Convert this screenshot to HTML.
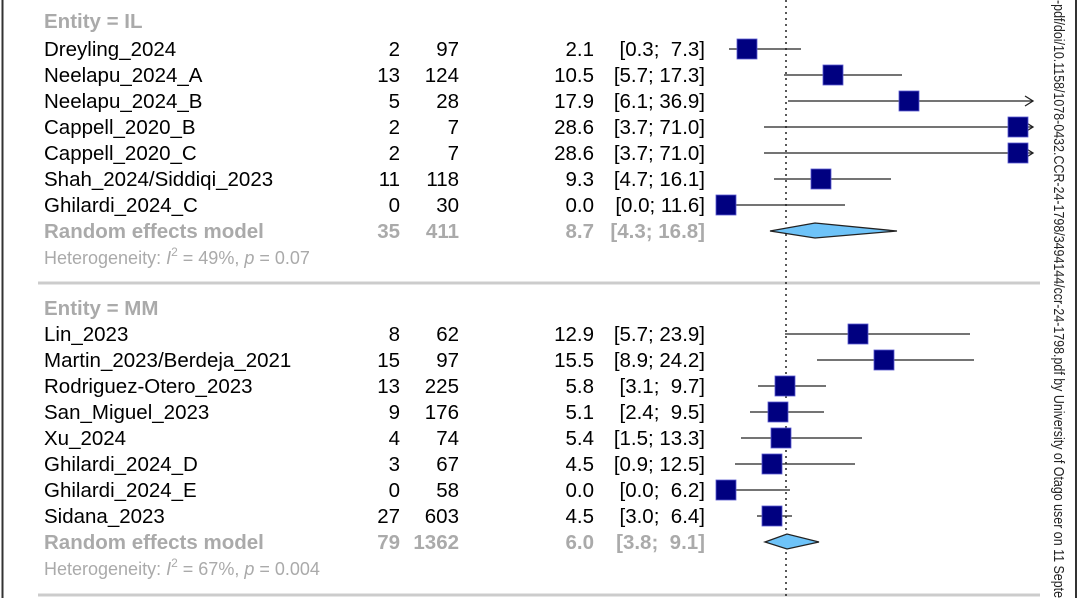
<!DOCTYPE html>
<html><head><meta charset="utf-8"><style>
html,body{margin:0;padding:0;background:#fff;overflow:hidden;width:1080px;height:598px;}
svg{display:block;font-family:"Liberation Sans",sans-serif;}
text{white-space:pre;}
</style></head><body>
<svg width="1080" height="598" viewBox="0 0 1080 598" xmlns="http://www.w3.org/2000/svg">
<defs><clipPath id="c"><rect width="1080" height="598"/></clipPath></defs>
<g clip-path="url(#c)">
<rect width="1080" height="598" fill="#fff"/>
<line x1="2.5" y1="0" x2="2.5" y2="598" stroke="#333" stroke-width="2"/>
<line x1="1076" y1="0" x2="1076" y2="598" stroke="#333" stroke-width="2"/>
<text x="1054" y="0" font-size="14.5" fill="#222" textLength="598" lengthAdjust="spacingAndGlyphs" transform="rotate(90 1054 0)">-pdf/doi/10.1158/1078-0432.CCR-24-1798/3494144/ccr-24-1798.pdf by University of Otago user on 11 Septe</text>
<line x1="38" y1="283" x2="1040" y2="283" stroke="#ccc" stroke-width="3"/>
<line x1="38" y1="595" x2="1040" y2="595" stroke="#ccc" stroke-width="3"/>
<line x1="786" y1="0" x2="786" y2="598" stroke="#222" stroke-width="1.5" stroke-dasharray="2,4"/>
<g font-size="20.5" fill="#000">
<text x="44" y="28" fill="#aaa" font-weight="bold">Entity = IL</text>
<text x="44" y="56">Dreyling_2024</text><text x="400" y="56" text-anchor="end">2</text><text x="459" y="56" text-anchor="end">97</text><text x="594" y="56" text-anchor="end">2.1</text><text x="705" y="56" text-anchor="end">[0.3;  7.3]</text>
<text x="44" y="82">Neelapu_2024_A</text><text x="400" y="82" text-anchor="end">13</text><text x="459" y="82" text-anchor="end">124</text><text x="594" y="82" text-anchor="end">10.5</text><text x="705" y="82" text-anchor="end">[5.7; 17.3]</text>
<text x="44" y="108">Neelapu_2024_B</text><text x="400" y="108" text-anchor="end">5</text><text x="459" y="108" text-anchor="end">28</text><text x="594" y="108" text-anchor="end">17.9</text><text x="705" y="108" text-anchor="end">[6.1; 36.9]</text>
<text x="44" y="134">Cappell_2020_B</text><text x="400" y="134" text-anchor="end">2</text><text x="459" y="134" text-anchor="end">7</text><text x="594" y="134" text-anchor="end">28.6</text><text x="705" y="134" text-anchor="end">[3.7; 71.0]</text>
<text x="44" y="160">Cappell_2020_C</text><text x="400" y="160" text-anchor="end">2</text><text x="459" y="160" text-anchor="end">7</text><text x="594" y="160" text-anchor="end">28.6</text><text x="705" y="160" text-anchor="end">[3.7; 71.0]</text>
<text x="44" y="186">Shah_2024/Siddiqi_2023</text><text x="400" y="186" text-anchor="end">11</text><text x="459" y="186" text-anchor="end">118</text><text x="594" y="186" text-anchor="end">9.3</text><text x="705" y="186" text-anchor="end">[4.7; 16.1]</text>
<text x="44" y="212">Ghilardi_2024_C</text><text x="400" y="212" text-anchor="end">0</text><text x="459" y="212" text-anchor="end">30</text><text x="594" y="212" text-anchor="end">0.0</text><text x="705" y="212" text-anchor="end">[0.0; 11.6]</text>
<g fill="#aaa" font-weight="bold"><text x="44" y="238">Random effects model</text><text x="400" y="238" text-anchor="end">35</text><text x="459" y="238" text-anchor="end">411</text><text x="594" y="238" text-anchor="end">8.7</text><text x="705" y="238" text-anchor="end">[4.3; 16.8]</text></g>
<text x="44" y="264" fill="#aaa" font-size="18">Heterogeneity: <tspan font-style="italic">I</tspan><tspan dy="-8" font-size="12">2</tspan><tspan dy="8"> = 49%, </tspan><tspan font-style="italic">p</tspan> = 0.07</text>

<text x="44" y="315" fill="#aaa" font-weight="bold">Entity = MM</text>
<text x="44" y="341">Lin_2023</text><text x="400" y="341" text-anchor="end">8</text><text x="459" y="341" text-anchor="end">62</text><text x="594" y="341" text-anchor="end">12.9</text><text x="705" y="341" text-anchor="end">[5.7; 23.9]</text>
<text x="44" y="367">Martin_2023/Berdeja_2021</text><text x="400" y="367" text-anchor="end">15</text><text x="459" y="367" text-anchor="end">97</text><text x="594" y="367" text-anchor="end">15.5</text><text x="705" y="367" text-anchor="end">[8.9; 24.2]</text>
<text x="44" y="393">Rodriguez-Otero_2023</text><text x="400" y="393" text-anchor="end">13</text><text x="459" y="393" text-anchor="end">225</text><text x="594" y="393" text-anchor="end">5.8</text><text x="705" y="393" text-anchor="end">[3.1;  9.7]</text>
<text x="44" y="419">San_Miguel_2023</text><text x="400" y="419" text-anchor="end">9</text><text x="459" y="419" text-anchor="end">176</text><text x="594" y="419" text-anchor="end">5.1</text><text x="705" y="419" text-anchor="end">[2.4;  9.5]</text>
<text x="44" y="445">Xu_2024</text><text x="400" y="445" text-anchor="end">4</text><text x="459" y="445" text-anchor="end">74</text><text x="594" y="445" text-anchor="end">5.4</text><text x="705" y="445" text-anchor="end">[1.5; 13.3]</text>
<text x="44" y="471">Ghilardi_2024_D</text><text x="400" y="471" text-anchor="end">3</text><text x="459" y="471" text-anchor="end">67</text><text x="594" y="471" text-anchor="end">4.5</text><text x="705" y="471" text-anchor="end">[0.9; 12.5]</text>
<text x="44" y="497">Ghilardi_2024_E</text><text x="400" y="497" text-anchor="end">0</text><text x="459" y="497" text-anchor="end">58</text><text x="594" y="497" text-anchor="end">0.0</text><text x="705" y="497" text-anchor="end">[0.0;  6.2]</text>
<text x="44" y="523">Sidana_2023</text><text x="400" y="523" text-anchor="end">27</text><text x="459" y="523" text-anchor="end">603</text><text x="594" y="523" text-anchor="end">4.5</text><text x="705" y="523" text-anchor="end">[3.0;  6.4]</text>
<g fill="#aaa" font-weight="bold"><text x="44" y="549">Random effects model</text><text x="400" y="549" text-anchor="end">79</text><text x="459" y="549" text-anchor="end">1362</text><text x="594" y="549" text-anchor="end">6.0</text><text x="705" y="549" text-anchor="end">[3.8;  9.1]</text></g>
<text x="44" y="575" fill="#aaa" font-size="18">Heterogeneity: <tspan font-style="italic">I</tspan><tspan dy="-8" font-size="12">2</tspan><tspan dy="8"> = 67%, </tspan><tspan font-style="italic">p</tspan> = 0.004</text>
</g>
<g stroke="#222" stroke-width="1.3" fill="none">
<line x1="729" y1="49" x2="801" y2="49"/>
<line x1="784" y1="75" x2="902" y2="75"/>
<line x1="788" y1="101" x2="1033" y2="101"/><polyline points="1025,96 1033,101 1025,106"/>
<line x1="764" y1="127" x2="1033" y2="127"/><polyline points="1025,122 1033,127 1025,132"/>
<line x1="764" y1="153" x2="1033" y2="153"/><polyline points="1025,148 1033,153 1025,158"/>
<line x1="774" y1="179" x2="891" y2="179"/>
<line x1="726" y1="205" x2="845" y2="205"/>
<line x1="785" y1="334" x2="970" y2="334"/>
<line x1="817" y1="360" x2="974" y2="360"/>
<line x1="758" y1="386" x2="826" y2="386"/>
<line x1="750" y1="412" x2="824" y2="412"/>
<line x1="741" y1="438" x2="862" y2="438"/>
<line x1="735" y1="464" x2="855" y2="464"/>
<line x1="726" y1="490" x2="790" y2="490"/>
<line x1="757" y1="516" x2="792" y2="516"/>
</g>
<g fill="#000080" stroke="#5a5ad0" stroke-width="0.8">
<rect x="737" y="39" width="20" height="20"/>
<rect x="823" y="65" width="20" height="20"/>
<rect x="899" y="91" width="20" height="20"/>
<rect x="1008" y="117" width="20" height="20"/>
<rect x="1008" y="143" width="20" height="20"/>
<rect x="811" y="169" width="20" height="20"/>
<rect x="716" y="195" width="20" height="20"/>
<rect x="848" y="324" width="20" height="20"/>
<rect x="874" y="350" width="20" height="20"/>
<rect x="775" y="376" width="20" height="20"/>
<rect x="768" y="402" width="20" height="20"/>
<rect x="771" y="428" width="20" height="20"/>
<rect x="762" y="454" width="20" height="20"/>
<rect x="716" y="480" width="20" height="20"/>
<rect x="762" y="506" width="20" height="20"/>
</g>
<g fill="#6ec3f8" stroke="#222" stroke-width="1.3">
<polygon points="770,231 815,223 897,231 815,238"/>
<polygon points="765,542 787,534 819,542 787,549"/>
</g>
</g>
</svg>
</body></html>
